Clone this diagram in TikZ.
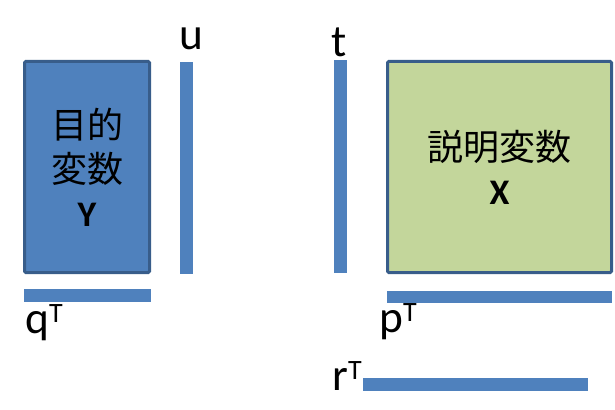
\documentclass[tikz,border=0pt]{standalone}
\usepackage{fontspec}
\setmainfont{Carlito}
\newfontfamily\jpfont{Noto Sans CJK JP}
\usetikzlibrary{positioning}
\definecolor{barblue}{HTML}{4F81BD}
\definecolor{edgeblue}{HTML}{385D8A}
\definecolor{xgreen}{HTML}{C3D69B}
% transpose mark
\newcommand{\tp}{\raisebox{0.24em}{\fontsize{21}{21}\selectfont T}}

\begin{document}
\begin{tikzpicture}[x=0.75pt, y=-0.75pt,
    matbox/.style={draw=edgeblue, line width=2.25pt, rounded corners=1pt, inner sep=0pt,
        align=center, font=\jpfont\fontsize{27}{33}\selectfont},
    vecbar/.style={fill=barblue, inner sep=0pt, outer sep=0pt},
    lbl/.style={font=\fontsize{34}{34}\selectfont, inner sep=0pt}]
    \useasboundingbox (0,0) rectangle (615,410);

    % Matrices
    \node[matbox, fill=barblue, minimum width=93.75pt, minimum height=158.25pt] (ybox) at (87,167)
        {目的\\変数\\{\rmfamily\bfseries Y}};
    \node[matbox, fill=xgreen, minimum width=168pt, minimum height=158.25pt] (xbox) at (499.5,167)
        {説明変数\\{\rmfamily\bfseries X}};

    % Score vectors
    \node[vecbar, minimum width=9.75pt, minimum height=159pt] (ubar) at (186.5,168) {};
    \node[vecbar, minimum width=9.75pt, minimum height=159.75pt] (tbar) at (340.5,166.5) {};

    % Loading vectors
    \node[vecbar, minimum width=95.25pt, minimum height=9.75pt] (qbar) at (87.5,295.5) {};
    \node[vecbar, minimum width=168.75pt, minimum height=9pt] (pbar) at (499.5,297) {};
    \node[vecbar, minimum width=168.75pt, minimum height=9.75pt] (rbar) at (475.5,384.5) {};

    % Labels
    \node[lbl, anchor=base west] (ulbl) at (179,50) {u};
    \node[lbl, anchor=base west] (tlbl) at (331,57) {t};
    \node[lbl, anchor=base west] (qlbl) at (25,333) {q\tp};
    \node[lbl, anchor=base west] (plbl) at (379,332) {p\tp};
    \node[lbl, anchor=base west] (rlbl) at (332,390) {r\tp};
\end{tikzpicture}
\end{document}
